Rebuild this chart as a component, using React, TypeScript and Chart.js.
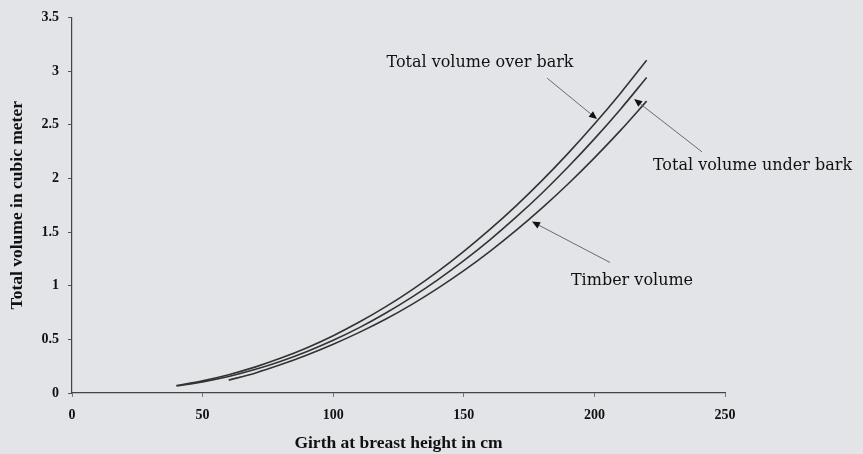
import React, { useEffect, useRef } from "react";
import { Chart, registerables } from "chart.js";

Chart.register(...registerables);

const girth = [40, 50, 60, 70, 80, 90, 100, 110, 120, 130, 140, 150, 160, 170, 180, 190, 200, 210, 220];
const overBark = [0.07, 0.114, 0.171, 0.241, 0.325, 0.422, 0.534, 0.661, 0.802, 0.959, 1.131, 1.32, 1.524, 1.744, 1.981, 2.235, 2.506, 2.794, 3.1];
const underBark = [0.065, 0.104, 0.154, 0.218, 0.296, 0.387, 0.491, 0.609, 0.743, 0.891, 1.054, 1.233, 1.427, 1.638, 1.864, 2.108, 2.368, 2.645, 2.94];
const timberGirth = [60, 70, 80, 90, 100, 110, 120, 130, 140, 150, 160, 170, 180, 190, 200, 210, 220];
const timber = [0.12, 0.185, 0.265, 0.355, 0.455, 0.565, 0.687, 0.824, 0.975, 1.14, 1.32, 1.515, 1.725, 1.95, 2.191, 2.447, 2.72];

const xTitle = "Girth at breast height in cm";
const yTitle = "Total volume in cubic meter";

// annotation labels with anchor + arrow (tail -> tip) in data units
const labels = [
  { text: "Total volume over bark", x: 156.2, y: 3.08, align: "center", tail: [181.9, 2.934], tip: [201.0, 2.553] },
  { text: "Total volume under bark", x: 222.4, y: 2.12, align: "left", tail: [241.2, 2.247], tip: [215.2, 2.739] },
  { text: "Timber volume", x: 214.4, y: 1.049, align: "center", tail: [206.0, 1.216], tip: [176.1, 1.597] },
];

const annotationPlugin = {
  id: "annots",
  afterDatasetsDraw(chart: any) {
    const { ctx, scales } = chart;
    const xs = scales.x;
    const ys = scales.y;
    ctx.save();
    for (const l of labels) {
      ctx.font = "16px 'DejaVu Serif'";
      ctx.fillStyle = "#111";
      ctx.textBaseline = "middle";
      ctx.textAlign = l.align as CanvasTextAlign;
      ctx.fillText(l.text, xs.getPixelForValue(l.x), ys.getPixelForValue(l.y));
      const x1 = xs.getPixelForValue(l.tail[0]);
      const y1 = ys.getPixelForValue(l.tail[1]);
      const x2 = xs.getPixelForValue(l.tip[0]);
      const y2 = ys.getPixelForValue(l.tip[1]);
      const ang = Math.atan2(y2 - y1, x2 - x1);
      const hl = 8;
      const hw = 3.5;
      const bx = x2 - hl * Math.cos(ang);
      const by = y2 - hl * Math.sin(ang);
      ctx.strokeStyle = "#6a6a6a";
      ctx.lineWidth = 1;
      ctx.beginPath();
      ctx.moveTo(x1, y1);
      ctx.lineTo(bx, by);
      ctx.stroke();
      ctx.fillStyle = "#111";
      ctx.beginPath();
      ctx.moveTo(x2, y2);
      ctx.lineTo(bx + hw * Math.sin(ang), by - hw * Math.cos(ang));
      ctx.lineTo(bx - hw * Math.sin(ang), by + hw * Math.cos(ang));
      ctx.closePath();
      ctx.fill();
    }
    ctx.restore();
  },
};

export default function App() {
  const ref = useRef<HTMLCanvasElement>(null);
  useEffect(() => {
    if (!ref.current) return;
    const lineStyle = {
      borderColor: "#333",
      borderWidth: 1.6,
      pointRadius: 0,
      fill: false,
      cubicInterpolationMode: "monotone" as const,
    };
    const chart = new Chart(ref.current, {
      type: "line",
      data: {
        datasets: [
          { label: "Total volume over bark", data: girth.map((g, i) => ({ x: g, y: overBark[i] })), ...lineStyle },
          { label: "Total volume under bark", data: girth.map((g, i) => ({ x: g, y: underBark[i] })), ...lineStyle },
          { label: "Timber volume", data: timberGirth.map((g, i) => ({ x: g, y: timber[i] })), ...lineStyle },
        ],
      },
      options: {
        animation: false,
        responsive: false,
        layout: { padding: { top: 16, right: 138, left: 0, bottom: 0 } },
        plugins: { legend: { display: false }, tooltip: { enabled: false } },
        scales: {
          x: {
            type: "linear",
            min: 0,
            max: 250,
            afterFit: (s: any) => { s.height = 61; },
            ticks: { stepSize: 50, color: "#111", padding: 10, font: { family: "'Liberation Serif'", size: 14, weight: "bold" } },
            grid: { drawOnChartArea: false, drawTicks: true, tickLength: 4, color: "#777" },
            border: { display: true, color: "#444", width: 1.2 },
            title: { display: true, text: xTitle, color: "#111", padding: { top: 0, bottom: 0 }, font: { family: "'Liberation Serif'", size: 17.5, weight: "bold" } },
          },
          y: {
            type: "linear",
            min: 0,
            max: 3.5,
            afterFit: (s: any) => { s.width = 72; },
            ticks: {
              stepSize: 0.5,
              color: "#111",
              padding: 9,
              font: { family: "'Liberation Serif'", size: 14, weight: "bold" },
              callback: (v: any) => String(Number(v)),
            },
            grid: { drawOnChartArea: false, drawTicks: true, tickLength: 4, color: "#555" },
            border: { display: true, color: "#444", width: 1.2 },
            title: { display: true, text: yTitle, color: "#111", padding: { top: 7, bottom: 0 }, font: { family: "'Liberation Serif'", size: 17.5, weight: "bold" } },
          },
        },
      },
      plugins: [annotationPlugin],
    });
    return () => chart.destroy();
  }, []);
  return (
    <div style={{ position: "absolute", left: 0, top: 0, width: 863, height: 454, background: "#e3e4e8" }}>
      <canvas ref={ref} width={863} height={454} style={{ display: "block" }} />
    </div>
  );
}
